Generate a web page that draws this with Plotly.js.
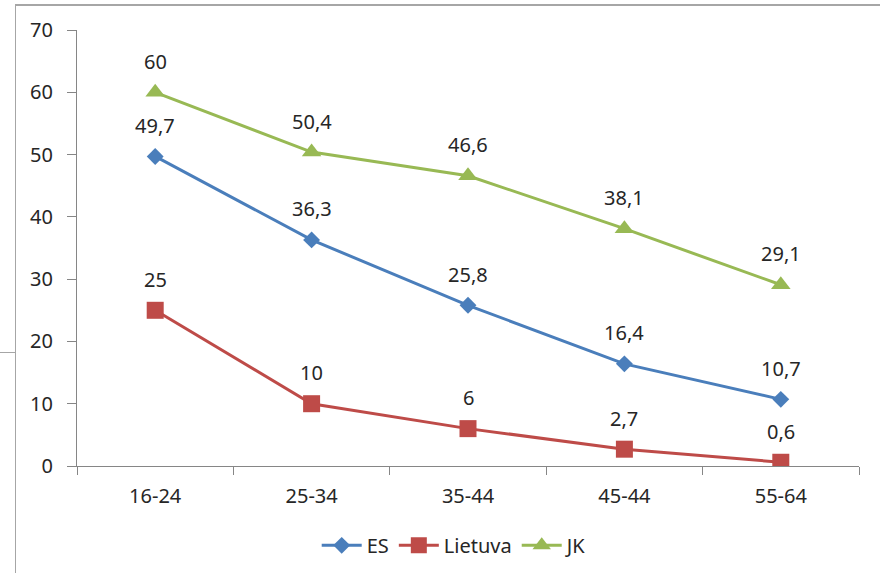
<!DOCTYPE html>
<html>
<head>
<meta charset="utf-8">
<script src="https://cdn.plot.ly/plotly-3.0.1.min.js"></script>
<style>
  html, body { margin: 0; padding: 0; background: #ffffff; }
  #wrap { position: relative; width: 884px; height: 573px; overflow: hidden; }
  #chart { width: 884px; height: 573px; }
  .frame { position: absolute; background: #a6a6a6; pointer-events: none; }
</style>
</head>
<body>
<div id="wrap">
  <div id="chart"></div>
  <div class="frame" style="left:15px; top:4px; width:865px; height:2px;"></div>
  <div class="frame" style="left:15px; top:4px; width:1px; height:569px;"></div>
  <div class="frame" style="left:0px; top:352px; width:15px; height:1px;"></div>
</div>
<script>
// Age groups on the category axis
const categories = ['16-24', '25-34', '35-44', '45-44', '55-64'];

// Series values (percent)
const esValues = [49.7, 36.3, 25.8, 16.4, 10.7];
const lietuvaValues = [25, 10, 6, 2.7, 0.6];
const jkValues = [60, 50.4, 46.6, 38.1, 29.1];

// Y axis ticks
const yTicks = [0, 10, 20, 30, 40, 50, 60, 70];

const FONT = 'Noto Sans, sans-serif';
const TEXT_COLOR = '#262626';

const seriesDefs = [
  { name: 'ES', values: esValues, color: '#4a7ebb', symbol: 'diamond', size: 13 },
  { name: 'Lietuva', values: lietuvaValues, color: '#be4b48', symbol: 'square', size: 17 },
  { name: 'JK', values: jkValues, color: '#98b954', symbol: 'triangle-up', size: 17 }
];

// Decimal comma formatting for the value labels
const fmt = v => String(v).replace('.', ',');

const traces = seriesDefs.map(s => ({
  type: 'scatter',
  mode: 'lines+markers',
  name: s.name,
  x: categories,
  y: s.values,
  line: { color: s.color, width: 3 },
  marker: { color: s.color, symbol: s.symbol, size: s.size, line: { width: 0 } },
  hoverinfo: 'skip'
}));

// Value labels sit a fixed distance above each point
const annotations = [];
seriesDefs.forEach(s => {
  s.values.forEach((v, i) => {
    annotations.push({
      x: categories[i],
      y: v,
      xref: 'x',
      yref: 'y',
      text: fmt(v),
      showarrow: false,
      yshift: 31,
      xanchor: 'center',
      yanchor: 'middle',
      font: { family: FONT, size: 20, color: TEXT_COLOR }
    });
  });
});

const layout = {
  width: 884,
  height: 573,
  margin: { l: 77, r: 25, t: 30, b: 107, autoexpand: false },
  paper_bgcolor: '#ffffff',
  plot_bgcolor: '#ffffff',
  font: { family: FONT, size: 20, color: TEXT_COLOR },
  showlegend: true,
  legend: {
    orientation: 'h',
    x: 0.483,
    xanchor: 'center',
    y: -0.182,
    yanchor: 'middle',
    font: { family: FONT, size: 20, color: TEXT_COLOR },
    itemwidth: 40,
    traceorder: 'normal'
  },
  xaxis: {
    type: 'category',
    range: [-0.5, 4.5],
    showgrid: false,
    zeroline: false,
    showline: true,
    linecolor: '#868686',
    linewidth: 1,
    ticks: 'outside',
    tickson: 'boundaries',
    ticklen: 8,
    tickcolor: '#868686',
    ticklabelstandoff: 12,
    tickfont: { family: FONT, size: 20, color: TEXT_COLOR },
    automargin: false,
    fixedrange: true
  },
  yaxis: {
    range: [0, 70],
    tickvals: yTicks,
    ticktext: yTicks.map(String),
    showgrid: false,
    zeroline: false,
    showline: true,
    linecolor: '#868686',
    linewidth: 1,
    ticks: 'outside',
    ticklen: 9,
    tickcolor: '#868686',
    ticklabelstandoff: 10,
    tickfont: { family: FONT, size: 20, color: TEXT_COLOR },
    automargin: false,
    fixedrange: true
  },
  annotations: annotations
};

Plotly.newPlot('chart', traces, layout, { staticPlot: true, displayModeBar: false });
</script>
</body>
</html>
